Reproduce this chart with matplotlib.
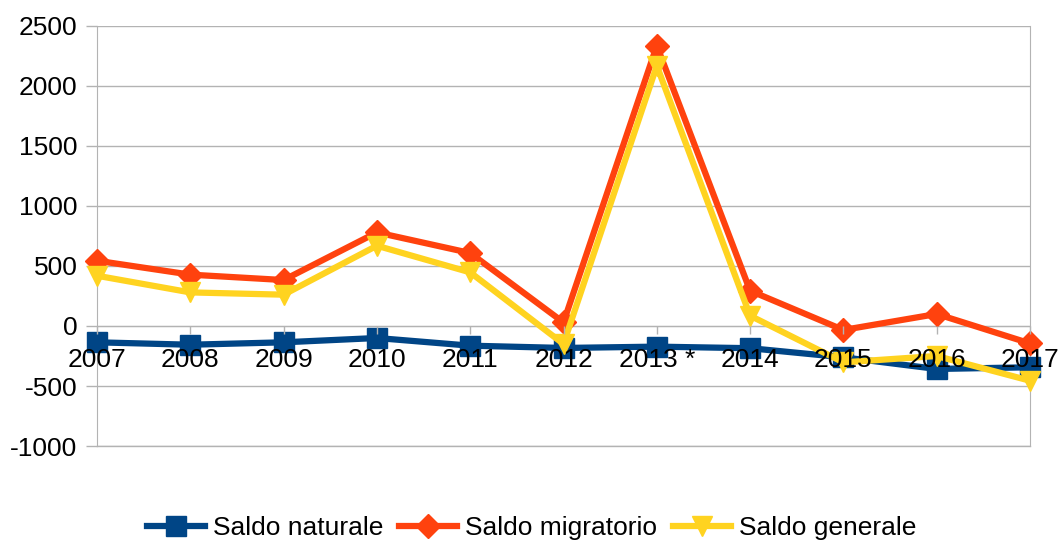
import matplotlib
matplotlib.use("Agg")
import matplotlib.pyplot as plt
import numpy as np

plt.rcParams['font.family'] = ['Liberation Sans', 'DejaVu Sans']
plt.rcParams['axes.unicode_minus'] = False

anni = ['2007', '2008', '2009', '2010', '2011', '2012', '2013 *', '2014', '2015', '2016', '2017']
saldo_naturale = [-136, -156, -136, -100, -164, -183, -172, -185, -261, -358, -344]
saldo_migratorio = [544, 428, 383, 780, 608, 30, 2336, 294, -33, 100, -145]
saldo_generale = [419, 280, 261, 669, 447, -150, 2169, 86, -303, -250, -456]

blu = '#004586'
arancio = '#ff420e'
giallo = '#ffd320'
grigio = '#b3b3b3'

fig = plt.figure(figsize=(10.63, 5.45), dpi=100)
ax = fig.add_axes([97/1063, 99/545, 933/1063, 420/545])

x = np.arange(len(anni))
ax.plot(x, saldo_naturale, color=blu, lw=4.5, marker='s', ms=14, clip_on=False, zorder=3, label='Saldo naturale')
ax.plot(x, saldo_migratorio, color=arancio, lw=4.5, marker='D', ms=12, clip_on=False, zorder=4, label='Saldo migratorio')
ax.plot(x, saldo_generale, color=giallo, lw=4.5, marker='v', ms=15, clip_on=False, zorder=5, label='Saldo generale')

ax.set_xlim(0, len(anni) - 1)
ax.set_ylim(-1000, 2500)
ax.set_yticks(np.arange(-1000, 2501, 500))
ax.yaxis.grid(True, color=grigio, lw=1)
ax.axhline(-1000, color=grigio, lw=1, clip_on=False, zorder=0.5)
ax.set_axisbelow(True)

ax.spines['top'].set_visible(False)
ax.spines['left'].set_color(grigio)
ax.spines['right'].set_color(grigio)
ax.spines['bottom'].set_position(('data', 0))
ax.spines['bottom'].set_color(grigio)

ax.set_xticks(x)
ax.set_xticklabels(anni)
ax.tick_params(axis='x', colors=grigio, labelcolor='black', length=6, width=1, pad=10, labelsize=19)
ax.tick_params(axis='y', colors=grigio, labelcolor='black', length=8, width=1, pad=6, labelsize=19)
# etichette degli anni sopra le linee, come nell'originale
ax.xaxis.set_zorder(6)

fig.legend(loc='center', bbox_to_anchor=(0.5, 17/545), ncol=3, frameon=False,
           fontsize=19, handlelength=2.2, handletextpad=0.3, columnspacing=0.6)

fig.savefig('out.png', dpi=100)
